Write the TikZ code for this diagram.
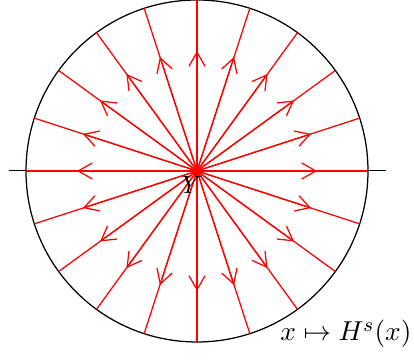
\documentclass[tikz,border=0pt]{standalone}
\usetikzlibrary{arrows.meta}
\begin{document}
\begin{tikzpicture}[x=0.4pt,y=0.4pt,
  ray/.style={red, line width=0.5pt},
  flowtip/.style={-{Straight Barb[length=5.6pt,width=6.4pt]}}]
\useasboundingbox (-197,-193) rectangle (217,171);
\draw[line width=0.5pt] (0,0) circle (171);
\coordinate (axisW) at (-188,0);
\coordinate (axisE) at (189,0);
\draw[line width=0.4pt] (axisW) -- (axisE);
\coordinate (Y) at (0,0);
% rays from Y out to the circle, arrow at 0.7 of the radius
\foreach \a in {0,18,...,342}{
  \coordinate (end\a) at (\a:171);
  \coordinate (mid\a) at (\a:120);
  \draw[ray] (Y) -- (end\a);
  \draw[ray,flowtip] (Y) -- (mid\a);
}
\fill[red] (Y) circle (4);
\node (lblY) at (-5,-14) {$Y$};
\node[anchor=base east, inner sep=0, font=\fontsize{11.2}{14}\selectfont] (lblmap) at (215,-170) {$x\mapsto H^s(x)$};
\end{tikzpicture}
\end{document}
